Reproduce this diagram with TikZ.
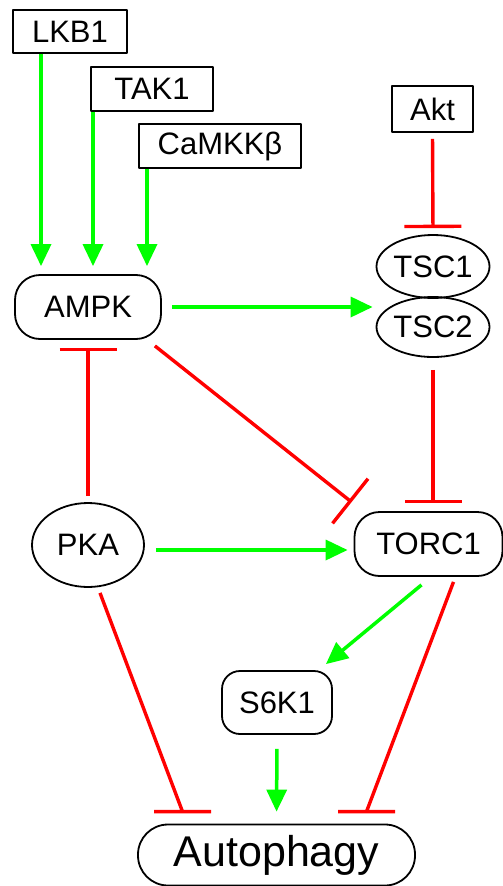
\documentclass[tikz,border=0pt]{standalone}
\usepackage{fontspec}
\setmainfont{Liberation Sans}
\usetikzlibrary{arrows.meta,shapes.geometric,calc}

\begin{document}
\begin{tikzpicture}[x=1pt, y=-1pt, line join=round,
    every node/.style={inner sep=0pt, font=\fontsize{31}{34}\selectfont},
    kinase/.style={draw, line width=1.8pt, rectangle},
    complex/.style={draw, line width=1.8pt, rectangle, rounded corners=25pt},
    protein/.style={draw, line width=1.8pt, ellipse},
    act/.style={color=green, line width=3.5pt, -{Triangle[length=22pt,width=20pt]}},
    inh/.style={color=red, line width=3.4pt, -{Bar[width=57pt]}},
    inhline/.style={draw=red, line width=3.4pt}]

    \useasboundingbox (0,0) rectangle (503,886);

    \node[kinase, minimum width=114pt, minimum height=43pt]  (lkb1)   at (70,31.5)   {LKB1};
    \node[kinase, minimum width=122pt, minimum height=44pt]  (tak1)   at (152,89)    {TAK1};
    \node[kinase, minimum width=162pt, minimum height=44pt]  (camkk)  at (220,146)   {CaMKKβ};
    \node[kinase, minimum width=81pt, minimum height=46pt]   (akt)    at (432.5,109) {Akt};
    \node[complex, minimum width=146pt, minimum height=64pt] (ampk)   at (88,307)    {AMPK};
    \node[protein, minimum width=113pt, minimum height=63pt] (tsc1)   at (433,266.5) {TSC1};
    \node[protein, minimum width=113pt, minimum height=60pt] (tsc2)   at (433,327)   {TSC2};
    \node[protein, minimum width=112pt, minimum height=84pt] (pka)    at (88,545)    {PKA};
    \node[complex, minimum width=148pt, minimum height=64pt] (torc1)  at (428.5,544) {TORC1};
    \node[complex, minimum width=110pt, minimum height=63pt, rounded corners=18pt] (s6k1) at (277,702.5) {S6K1};
    \node[complex, minimum width=277pt, minimum height=61pt, rounded corners=30pt,
          font=\fontsize{43}{46}\selectfont]             (auto)   at (276.5,855) {Autophagy};

    % activation
    \path[act]  ([xshift=-29pt]lkb1.south)  edge [shorten >=8pt]  ([xshift=-29pt]lkb1.south |- ampk.north)
                ([xshift=-59pt]tak1.south)  edge [shorten >=8pt]  ([xshift=-59pt]tak1.south |- ampk.north)
                ([xshift=-73pt]camkk.south) edge [shorten >=8pt]  ([xshift=-73pt]camkk.south |- ampk.north)
                (ampk.east)                 edge [shorten <=10pt, shorten >=3pt] (tsc2.west |- ampk.east)
                ($(pka.east)+(11,5)$)       edge [shorten >=6pt]  ($(torc1.west)+(0,6)$)
                ($(torc1.south)+(-7,8)$)    edge []               ($(s6k1.north east)+(-7,-6)$)
                (s6k1.south)                edge [shorten <=14pt, shorten >=12pt] (auto.north);

    % inhibition
    \path[inh]  (akt.south)                 edge [shorten <=6pt, shorten >=6pt]   (tsc1.north)
                (tsc2.south)                edge [shorten <=12pt, shorten >=8pt]  (tsc2.south |- torc1.north)
                (pka.north)                 edge [shorten <=6pt, shorten >=8pt]   (ampk.south)
                ($(ampk.south east)+(-7,6)$) edge []             ($(torc1.north west)+(-2,-9)$);

    % inhibition with a level bar on Autophagy
    \coordinate (pkabar)   at ($(auto.north)+(-94,-12)$);
    \coordinate (torc1bar) at ($(auto.north)+(90,-12)$);
    \draw[inhline] ($(pka.south)+(12,5)$)   -- (pkabar)   ++(-28.5,0) -- ++(57,0);
    \draw[inhline] ($(torc1.south)+(25,5)$) -- (torc1bar) ++(-28.5,0) -- ++(57,0);

\end{tikzpicture}
\end{document}
